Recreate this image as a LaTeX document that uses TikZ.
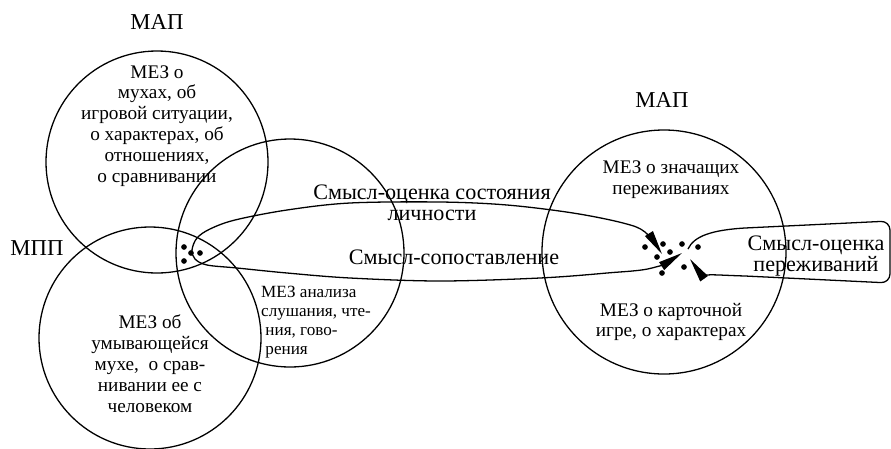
\documentclass[tikz,border=0pt]{standalone}
\usepackage{fontspec}
\setmainfont{Liberation Serif}
\usetikzlibrary{arrows.meta}

\begin{document}
\begin{tikzpicture}[x=0.66pt,y=-0.66pt,line width=0.85pt,
    txt/.style={font=\fontsize{12.7}{13.8}\selectfont,align=center,inner sep=0pt},
    big/.style={font=\fontsize{14.6}{14}\selectfont,align=center,inner sep=0pt},
    small/.style={font=\fontsize{11.3}{12.4}\selectfont,align=left,inner sep=0pt},
    arr/.style={-{Triangle[length=16pt,width=6pt]}},
    dot/.style={black}]
    \useasboundingbox (0,0) rectangle (891,448);

    % 定义圆心
    \coordinate (O1) at (157,162);
    \coordinate (O2) at (150,338);
    \coordinate (O3) at (290,253);
    \coordinate (O4) at (664,252);

    % 绘制圆
    \draw (O1) circle (111);
    \draw (O2) circle (111);
    \draw (O3) circle (114);
    \draw (O4) circle (122);

    % 标题
    \node[big,font=\fontsize{15}{15}\selectfont] (M1) at (157,22) {МАП};
    \node[big,font=\fontsize{15}{15}\selectfont] (M2) at (662,100) {МАП};
    \node[big,font=\fontsize{15}{15}\selectfont] (M3) at (37,248) {МПП};

    % 圆内文字
    \node[txt] (T1) at (157,126) {МЕЗ о\\ мухах, об\\ игровой ситуации,\\ о характерах, об\\ отношениях,\\ о сравнивании};
    \node[txt] (T2) at (150,364) {МЕЗ об\\ умывающейся\\ мухе,\ \ о срав-\\ нивании ее с\\ человеком};
    \node[small] (T3) at (316,322) {МЕЗ анализа\\ слушания, чте-\\ \ ния, гово-\\ \ рения};
    \node[txt] (T4) at (671,180) {МЕЗ о значащих\\ переживаниях};
    \node[txt] (T5) at (671,322) {МЕЗ о карточной\\ игре, о характерах};

    % 曲线上的文字
    \node[big] (S1) at (432,203) {Смысл-оценка состояния\\ личности};
    \node[big] (S2) at (454,257) {Смысл-сопоставление};
    \node[big] (S3) at (816,256) {Смысл-оценка\\ переживаний};

    % 左边的点
    \coordinate (A) at (184,247);
    \coordinate (B) at (191,253);
    \coordinate (C) at (200,253);
    \coordinate (D) at (184,261);
    % 右边的点
    \coordinate (E) at (645,247);
    \coordinate (F) at (663,244);
    \coordinate (G) at (670,252);
    \coordinate (H) at (657,257);
    \coordinate (I) at (682,244);
    \coordinate (J) at (698,247);
    \coordinate (K) at (662,273);
    \coordinate (L) at (684,267);

    \foreach \p in {A,B,C,D,E,F,G,H,I,J,K,L}
        \filldraw [dot] (\p) circle (1.4pt);

    % 大回路
    \draw[{Triangle[length=16pt,width=6pt]}-{Triangle[length=16pt,width=6pt]}]
        plot[smooth,tension=0.55] coordinates {(682,253) (652,268) (607,273) (540,278)
        (440,281) (350,278) (287,273) (237,268) (207,265) (195,259) (192,250) (197,238)
        (210,229) (235,220) (287,210) (350,203) (440,202) (507,205) (573,213) (623,223)
        (645,232) (662,254)};

    % 右回路
    \draw[arr] (688,249) .. controls (694,236) and (712,230) .. (745,228)
        [rounded corners=6pt] -- (890,221) -- (890,283) [sharp corners] -- (745,276)
        .. controls (712,275) and (700,273) .. (690,259);
\end{tikzpicture}
\end{document}
